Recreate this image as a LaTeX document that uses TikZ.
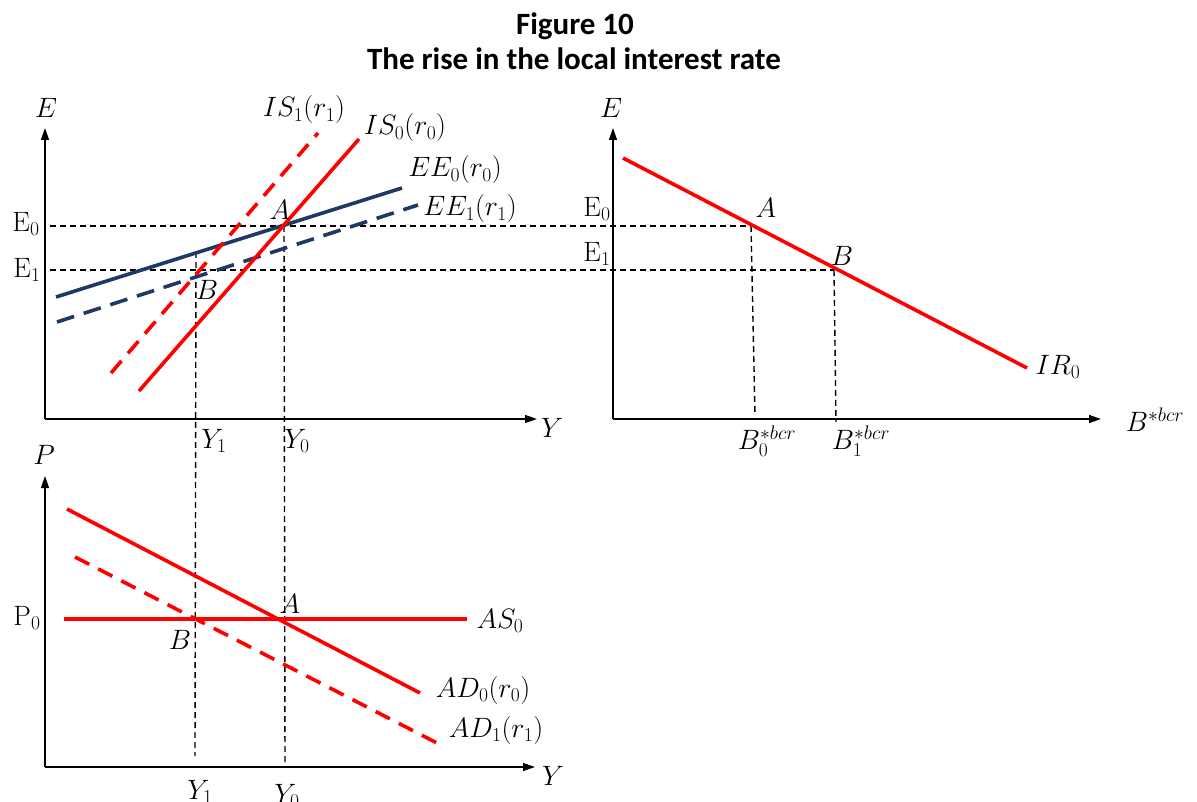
\RequirePackage{fix-cm}
\documentclass[tikz,border=0pt]{standalone}
\usepackage{fontspec}
\newfontfamily\titlefont{Carlito}
\usetikzlibrary{arrows.meta}
\definecolor{navy}{RGB}{31,56,100}
\tikzset{
  axis/.style={line width=1.3pt, -{Triangle[length=12pt,width=8pt]}},
  guide/.style={line width=1.4pt, dash pattern=on 6pt off 4pt},
  redline/.style={red, line width=3.6pt},
  reddash/.style={redline, dash pattern=on 16pt off 10pt},
  navyline/.style={navy, line width=3.6pt},
  navydash/.style={navyline, dash pattern=on 18pt off 10pt},
  lab/.style={font=\fontsize{28}{32}\selectfont, inner sep=1pt},
  ttl/.style={font=\titlefont\bfseries\fontsize{31}{36}\selectfont, inner sep=0pt, anchor=base}
}
\begin{document}
\begin{tikzpicture}[x=1pt,y=-1pt]
\useasboundingbox (0,0) rectangle (1197,802);
% title
\node[ttl] (t1) at (575,35) {Figure 10};
\node[ttl] (t2) at (574,70) {The rise in the local interest rate};
% ---------- top-left panel ----------
\coordinate (O1) at (45,419);
\coordinate (E1top) at (45,128);
\coordinate (Y1end) at (537,419);
\coordinate (A1) at (284,226);
\coordinate (B1) at (196,270);
% ---------- right panel ----------
\coordinate (O2) at (613,419);
\coordinate (E2top) at (613,128);
\coordinate (B2end) at (1101,419);
\coordinate (A2) at (751,226);
\coordinate (B2) at (834,270);
% ---------- bottom panel ----------
\coordinate (O3) at (45,767);
\coordinate (P3top) at (45,476);
\coordinate (Y3end) at (535,767);
\coordinate (A3) at (285,619);
\coordinate (B3) at (195,619);
% guide start/end points
\coordinate (gE0) at (50,226);
\coordinate (gE1) at (50,270);
\coordinate (gY1top) at (196,252);
\coordinate (gY1bot) at (195,756);
\coordinate (gY0bot) at (285,767);
\coordinate (gB0bot) at (755,416);
\coordinate (gB1bot) at (836,422);
% dashed guides
\draw[guide] (gE0) -- (A2);
\draw[guide] (gE1) -- (B2);
\draw[guide] (gY1top) -- (gY1bot);
\draw[guide] (A1) -- (gY0bot);
\draw[guide] (A2) -- (gB0bot);
\draw[guide] (B2) -- (gB1bot);
% axes
\draw[axis] (O1) -- (E1top);
\draw[axis] (O1) -- (Y1end);
\draw[axis] (O2) -- (E2top);
\draw[axis] (O2) -- (B2end);
\draw[axis] (O3) -- (P3top);
\draw[axis] (O3) -- (Y3end);
% top-left curves
\coordinate (ee0a) at (56,297); \coordinate (ee0b) at (402,188);
\coordinate (ee1a) at (57,322); \coordinate (ee1b) at (418,205);
\coordinate (is0a) at (139,391); \coordinate (is0b) at (359,139);
\coordinate (is1a) at (111,373); \coordinate (is1b) at (318,133);
\draw[navyline] (ee0a) -- (ee0b);
\draw[navydash] (ee1a) -- (ee1b);
\draw[redline] (is0a) -- (is0b);
\draw[reddash] (is1a) -- (is1b);
% right curve
\coordinate (ira) at (623,158); \coordinate (irb) at (1027,368);
\draw[redline] (ira) -- (irb);
% bottom curves
\coordinate (as0a) at (64,619); \coordinate (as0b) at (467,619);
\coordinate (ad0a) at (67,509); \coordinate (ad0b) at (420,693);
\coordinate (ad1a) at (75,557); \coordinate (ad1b) at (437,743);
\draw[redline] (as0a) -- (as0b);
\draw[redline] (ad0a) -- (ad0b);
\draw[reddash] (ad1a) -- (ad1b);
% labels top-left
\node[lab] (lE1) at (46,108) {$E$};
\node[lab] (lY1) at (552,428) {$Y$};
\node[lab] (lE0a) at (26,224) {$\mathrm{E}_0$};
\node[lab] (lE1a) at (27,270) {$\mathrm{E}_1$};
\node[lab] (lIS1) at (304,110) {$IS_1(r_1)$};
\node[lab] (lIS0) at (405,128) {$IS_0(r_0)$};
\node[lab] (lEE0) at (455,170) {$EE_0(r_0)$};
\node[lab] (lEE1) at (470,209) {$EE_1(r_1)$};
\node[lab] (lA1) at (280,210) {$A$};
\node[lab] (lB1) at (207,290) {$B$};
\node[lab] (lY1a) at (214,441) {$Y_1$};
\node[lab] (lY0a) at (297,441) {$Y_0$};
% labels right
\node[lab] (lE2) at (611,108) {$E$};
\node[lab] (lE0b) at (597,209) {$\mathrm{E}_0$};
\node[lab] (lE1b) at (597,254) {$\mathrm{E}_1$};
\node[lab] (lA2) at (766,208) {$A$};
\node[lab] (lB2) at (842,256) {$B$};
\node[lab] (lIR) at (1058,367) {$IR_0$};
\node[lab] (lBax) at (1155,420) {$B^{*bcr}$};
\node[lab] (lB0) at (767,441) {$B_0^{*bcr}$};
\node[lab] (lB1x) at (861,441) {$B_1^{*bcr}$};
% labels bottom
\node[lab] (lP) at (44,455) {$P$};
\node[lab] (lP0) at (27,618) {$\mathrm{P}_0$};
\node[lab] (lA3) at (290,604) {$A$};
\node[lab] (lB3) at (180,640) {$B$};
\node[lab] (lAS) at (500,621) {$AS_0$};
\node[lab] (lAD0) at (483,690) {$AD_0(r_0)$};
\node[lab] (lAD1) at (496,730) {$AD_1(r_1)$};
\node[lab] (lY3) at (553,776) {$Y$};
\node[lab] (lY1b) at (200,792) {$Y_1$};
\node[lab] (lY0b) at (287,796) {$Y_0$};
\end{tikzpicture}
\end{document}
